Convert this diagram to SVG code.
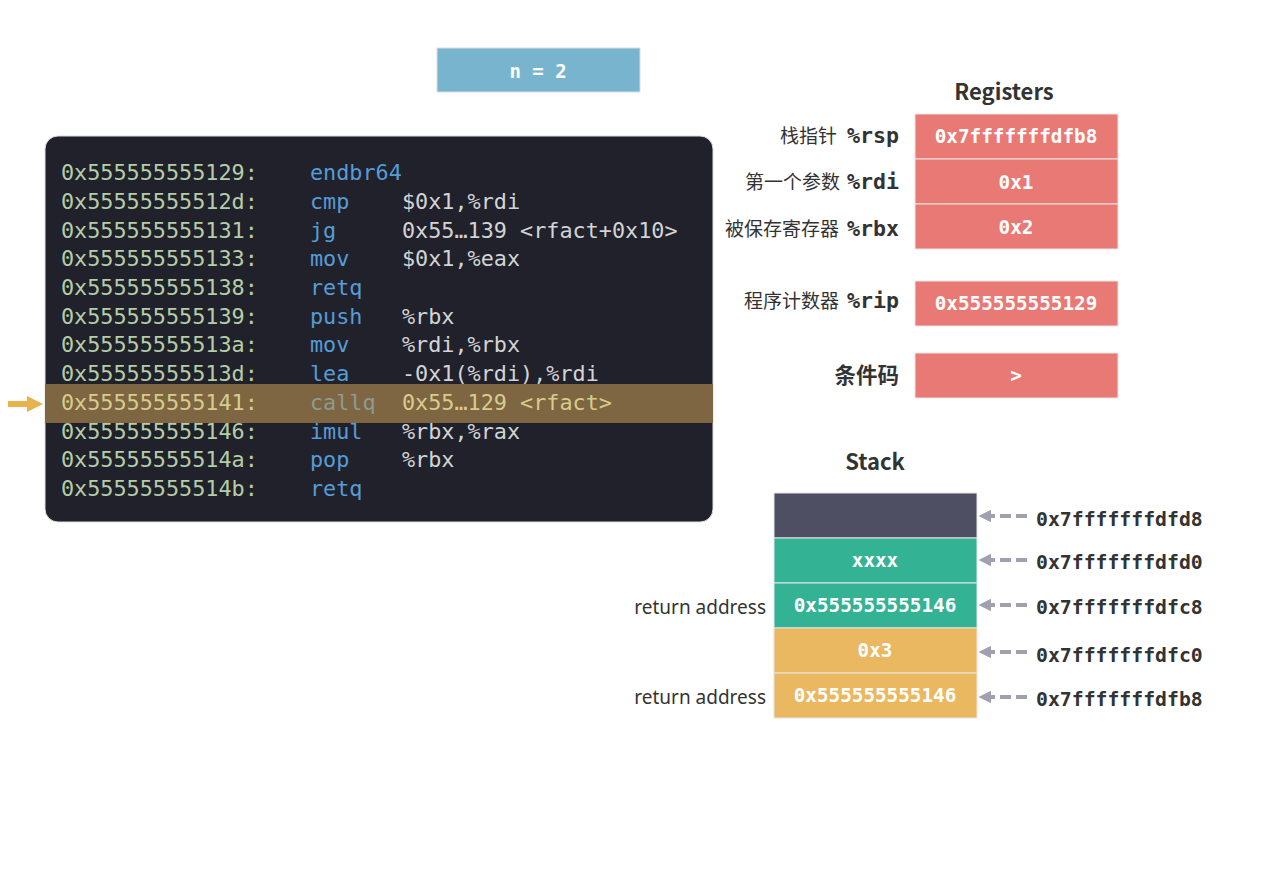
<svg xmlns="http://www.w3.org/2000/svg" width="1280" height="869" viewBox="0 0 1280 869">
<defs>
<style>
.code{font-family:"DejaVu Sans Mono","Liberation Mono",monospace;font-size:21.8px}
.addr{fill:#b5cea8}
.mn{fill:#569cd6}
.op{fill:#d4d4d4}
.hl{fill:#d8cc8c}
.hlm{fill:#8e9a94}
.title{font-family:"Noto Sans CJK SC","Noto Sans",sans-serif;font-weight:bold;font-size:22px;fill:#333;text-anchor:middle}
.cn{font-family:"Noto Sans CJK SC","Noto Sans",sans-serif;font-size:19px;fill:#333;text-anchor:end}
.reg{font-family:"DejaVu Sans Mono","Liberation Mono",monospace;font-weight:bold;font-size:21.6px;fill:#333;text-anchor:end}
.box{stroke:#e6e6e6;stroke-width:1}
.rbox{fill:#e87975}
.val{font-family:"DejaVu Sans Mono","Liberation Mono",monospace;font-weight:bold;font-size:19.3px;fill:#fff;text-anchor:middle}
.saddr{font-family:"DejaVu Sans Mono","Liberation Mono",monospace;font-weight:bold;font-size:19.8px;fill:#333}
.ret{font-family:"Noto Sans","Open Sans",sans-serif;font-size:19px;fill:#333;text-anchor:end}
.ptr{stroke:#a0a0b0;stroke-width:4;stroke-dasharray:11 5;fill:none}
</style>
<marker id="ah" viewBox="0 0 10 10" refX="1" refY="5" markerWidth="3.2" markerHeight="3.2" orient="auto-start-reverse" markerUnits="strokeWidth">
<path d="M0,0 L10,5 L0,10 z" fill="#a0a0b0"/>
</marker>
</defs>
<rect width="1280" height="869" fill="#ffffff"/>

<g id="n-box">
<rect x="437" y="48" width="203" height="44" fill="#78b4cd" stroke="#dddddd"/>
<text x="538" y="78" font-family="DejaVu Sans Mono,monospace" font-weight="bold" font-size="19" fill="#fff" text-anchor="middle" xml:space="preserve">n = 2</text>
</g>

<g id="code">
<rect x="45" y="136" width="668" height="386" rx="13" fill="#20212b" stroke="#dddddd" stroke-width="1"/>
<rect x="45" y="384" width="668" height="39" fill="#7d6641"/>
<g class="code">
<text x="61" y="180" class="addr">0x555555555129:</text><text x="310" y="180" class="mn">endbr64</text>
<text x="61" y="209" class="addr">0x55555555512d:</text><text x="310" y="209" class="mn">cmp</text><text x="402" y="209" class="op">$0x1,%rdi</text>
<text x="61" y="238" class="addr">0x555555555131:</text><text x="310" y="238" class="mn">jg</text><text x="402" y="238" class="op">0x55…139 &lt;rfact+0x10&gt;</text>
<text x="61" y="266" class="addr">0x555555555133:</text><text x="310" y="266" class="mn">mov</text><text x="402" y="266" class="op">$0x1,%eax</text>
<text x="61" y="295" class="addr">0x555555555138:</text><text x="310" y="295" class="mn">retq</text>
<text x="61" y="324" class="addr">0x555555555139:</text><text x="310" y="324" class="mn">push</text><text x="402" y="324" class="op">%rbx</text>
<text x="61" y="352" class="addr">0x55555555513a:</text><text x="310" y="352" class="mn">mov</text><text x="402" y="352" class="op">%rdi,%rbx</text>
<text x="61" y="381" class="addr">0x55555555513d:</text><text x="310" y="381" class="mn">lea</text><text x="402" y="381" class="op">-0x1(%rdi),%rdi</text>
<text x="61" y="410" class="hl">0x555555555141:</text><text x="310" y="410" class="hlm">callq</text><text x="402" y="410" class="hl">0x55…129 &lt;rfact&gt;</text>
<text x="61" y="439" class="addr">0x555555555146:</text><text x="310" y="439" class="mn">imul</text><text x="402" y="439" class="op">%rbx,%rax</text>
<text x="61" y="467" class="addr">0x55555555514a:</text><text x="310" y="467" class="mn">pop</text><text x="402" y="467" class="op">%rbx</text>
<text x="61" y="496" class="addr">0x55555555514b:</text><text x="310" y="496" class="mn">retq</text>
</g>
</g>

<g id="pc-arrow">
<path d="M8,401 L27,401 L27,396 L43,404 L27,412 L27,407 L8,407 z" fill="#e8b34f"/>
</g>

<g id="registers">
<text x="1004" y="100" class="title">Registers</text>
<rect x="915" y="114" width="203" height="45" class="box rbox"/>
<rect x="915" y="159" width="203" height="45" class="box rbox"/>
<rect x="915" y="204" width="203" height="45" class="box rbox"/>
<rect x="915" y="281" width="203" height="45" class="box rbox"/>
<rect x="915" y="353" width="203" height="45" class="box rbox"/>
<text x="1016" y="143" class="val">0x7fffffffdfb8</text>
<text x="1016" y="189" class="val">0x1</text>
<text x="1016" y="234" class="val">0x2</text>
<text x="1016" y="310" class="val">0x555555555129</text>
<text x="1016" y="382" class="val">&gt;</text>
<text x="837" y="143" class="cn">栈指针</text><text x="899" y="143" class="reg">%rsp</text>
<text x="840" y="189" class="cn">第一个参数</text><text x="899" y="189" class="reg">%rdi</text>
<text x="839" y="236" class="cn">被保存寄存器</text><text x="899" y="236" class="reg">%rbx</text>
<text x="839" y="308" class="cn">程序计数器</text><text x="899" y="308" class="reg">%rip</text>
<text x="899" y="383" text-anchor="end" font-family="Noto Sans CJK SC,sans-serif" font-weight="bold" font-size="21.5" fill="#333">条件码</text>
</g>

<g id="stack">
<text x="875" y="470" class="title">Stack</text>
<rect x="774" y="493" width="203" height="45" class="box" fill="#4f4f63"/>
<rect x="774" y="538" width="203" height="45" class="box" fill="#33b294"/>
<rect x="774" y="583" width="203" height="45" class="box" fill="#33b294"/>
<rect x="774" y="628" width="203" height="45" class="box" fill="#e9b860"/>
<rect x="774" y="673" width="203" height="45" class="box" fill="#e9b860"/>
<text x="875" y="567" class="val">xxxx</text>
<text x="875" y="612" class="val">0x555555555146</text>
<text x="875" y="657" class="val">0x3</text>
<text x="875" y="702" class="val">0x555555555146</text>
<text x="766" y="614" class="ret">return address</text>
<text x="766" y="704" class="ret">return address</text>
<text x="1036" y="526" class="saddr">0x7fffffffdfd8</text>
<text x="1036" y="569" class="saddr">0x7fffffffdfd0</text>
<text x="1036" y="614" class="saddr">0x7fffffffdfc8</text>
<text x="1036" y="662" class="saddr">0x7fffffffdfc0</text>
<text x="1036" y="706" class="saddr">0x7fffffffdfb8</text>
</g>

<g id="connectors">
<path d="M1027,516 L990,516" class="ptr" marker-end="url(#ah)"/>
<path d="M1027,560 L990,560" class="ptr" marker-end="url(#ah)"/>
<path d="M1027,605 L990,605" class="ptr" marker-end="url(#ah)"/>
<path d="M1027,652 L990,652" class="ptr" marker-end="url(#ah)"/>
<path d="M1027,697 L990,697" class="ptr" marker-end="url(#ah)"/>
</g>
</svg>
